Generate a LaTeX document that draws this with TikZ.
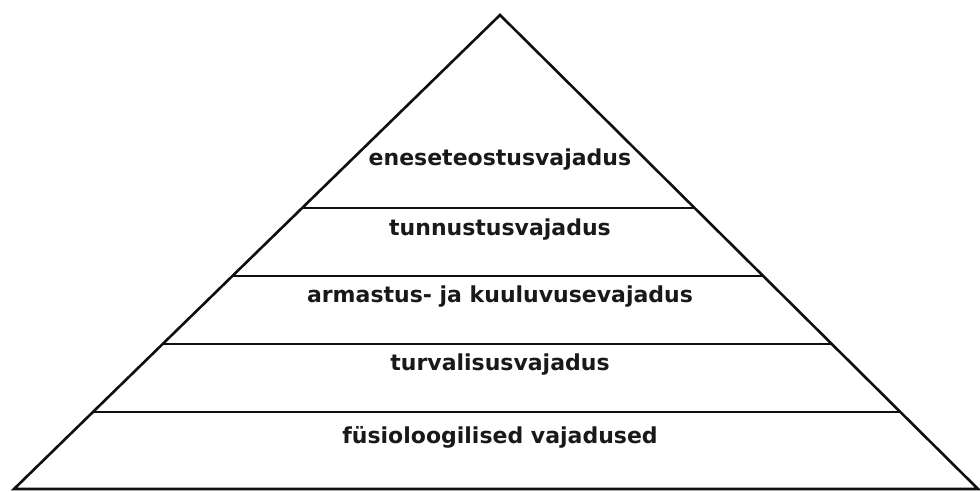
\documentclass[tikz,border=0pt]{standalone}
\usepackage{fontspec}
\setmainfont{DejaVu Sans}
\usepackage{tikz}
\usepackage{xcolor}
\usetikzlibrary{calc}
\definecolor{linecolor}{RGB}{15,15,15}
\definecolor{labelcolor}{RGB}{25,25,25}
\tikzstyle{edge} = [draw=linecolor, line width=2.6pt, line join=miter]
\tikzstyle{level} = [draw=linecolor, line width=2.6pt]
\tikzstyle{levellabel} = [font=\fontsize{22}{26}\selectfont\bfseries, text=labelcolor, inner sep=0pt]

\begin{document}
\begin{tikzpicture}[x=1pt, y=1pt]
    % Frame
    \useasboundingbox (0, 0) rectangle (980, 491);

    % Pyramid corners
    \coordinate (apex) at (500, 476);
    \coordinate (baseL) at (14, 2);
    \coordinate (baseR) at (978, 2);
    \draw[edge] (baseL) -- (apex) -- (baseR) -- cycle;

    % Level borders
    \foreach \t/\n in {0.1624/a, 0.306/b, 0.449/c, 0.593/d} {
        \coordinate (\n L) at ($(baseL)!\t!(apex)$);
        \coordinate (\n R) at ($(baseR)!\t!(apex)$);
        \draw[level] (\n L) -- (\n R);
    }

    % Labels
    \node[levellabel] (selfact) at (500, 331) {eneseteostusvajadus};
    \node[levellabel] (esteem) at (500, 261) {tunnustusvajadus};
    \node[levellabel] (love) at (500, 194) {armastus- ja kuuluvusevajadus};
    \node[levellabel] (safety) at (500, 126) {turvalisusvajadus};
    \node[levellabel] (physio) at (500, 54) {füsioloogilised vajadused};
\end{tikzpicture}
\end{document}
